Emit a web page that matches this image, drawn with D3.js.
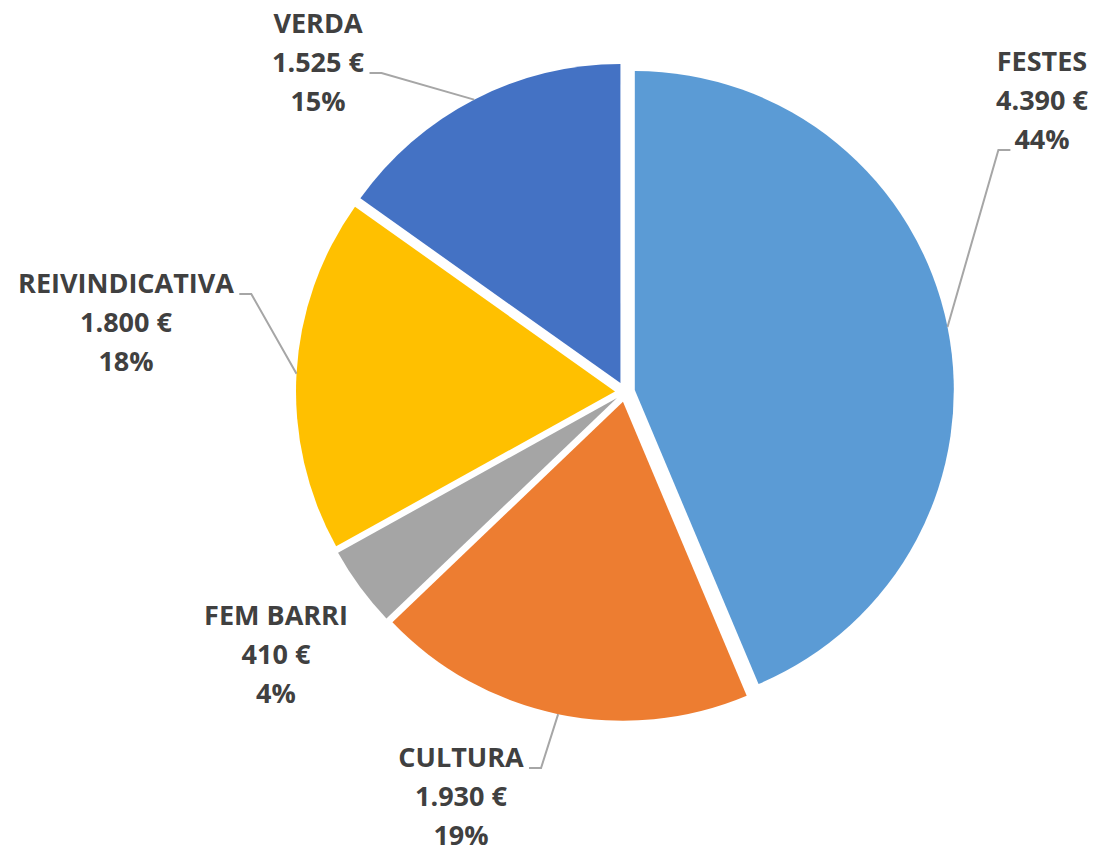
<!DOCTYPE html>
<html>
<head>
<meta charset="utf-8">
<script src="https://cdn.jsdelivr.net/npm/d3@7"></script>
<style>
  html, body { margin: 0; padding: 0; background: #fff; }
  svg { display: block; }
</style>
</head>
<body>
<div id="chart"></div>
<script>
// Chart data
const categories = ["FESTES", "CULTURA", "FEM BARRI", "REIVINDICATIVA", "VERDA"];
const amounts = [4390, 1930, 410, 1800, 1525];
const colors = ["#5B9BD5", "#ED7D31", "#A5A5A5", "#FFC000", "#4472C4"];

// Label placement (center x, first baseline y) and where the leader line attaches
const labelPos = {
    "FESTES":         { x: 1042, y: 71,  leader: { line: 2, side: "left" } },
    "CULTURA":        { x: 461,  y: 767, leader: { line: 0, side: "right" } },
    "FEM BARRI":      { x: 276,  y: 625, leader: null },
    "REIVINDICATIVA": { x: 126,  y: 293, leader: { line: 0, side: "right" } },
    "VERDA":          { x: 318,  y: 33,  leader: { line: 1, side: "right" } }
};

const width = 1097;
const height = 850;
const cx = 625, cy = 392;
const radius = 319;
const explode = 10;
const lineHeight = 39;

const locale = d3.formatLocale({ decimal: ",", thousands: ".", grouping: [3], currency: ["", " €"] });
const fmtEuro = locale.format("$,.0f");

const total = d3.sum(amounts);
const data = categories.map((c, i) => ({ name: c, value: amounts[i], color: colors[i] }));

const svg = d3.select("#chart").append("svg")
    .attr("width", width)
    .attr("height", height);

const pie = d3.pie().sort(null).value(d => d.value);
const arc = d3.arc().innerRadius(0).outerRadius(radius);
const arcs = pie(data);

// offset of each slice along its bisector
const shift = a => {
    const mid = (a.startAngle + a.endAngle) / 2;
    return [Math.sin(mid) * explode, -Math.cos(mid) * explode];
};

const g = svg.append("g").attr("transform", `translate(${cx},${cy})`);

g.selectAll("path.slice")
    .data(arcs)
    .enter()
    .append("path")
    .attr("class", "slice")
    .attr("transform", d => `translate(${shift(d)})`)
    .attr("d", arc)
    .attr("fill", d => d.data.color);

// Labels
const labels = svg.append("g")
    .attr("font-family", "'Open Sans', 'DejaVu Sans', sans-serif")
    .attr("font-weight", "bold")
    .attr("font-size", "27px")
    .attr("fill", "#404040")
    .attr("text-anchor", "middle");

arcs.forEach(a => {
    const d = a.data;
    const pos = labelPos[d.name];
    const lines = [d.name, fmtEuro(d.value), Math.round(d.value / total * 100) + "%"];
    const texts = lines.map((t, i) =>
        labels.append("text")
            .attr("x", pos.x)
            .attr("y", pos.y + i * lineHeight)
            .text(t)
    );

    if (!pos.leader) return;

    // start of leader: middle of the slice's outer edge
    const mid = (a.startAngle + a.endAngle) / 2;
    const [sx, sy] = shift(a);
    const start = [cx + sx + Math.sin(mid) * radius, cy + sy - Math.cos(mid) * radius];

    const box = texts[pos.leader.line].node().getBBox();
    const ly = pos.y + pos.leader.line * lineHeight + 1;
    const end = pos.leader.side === "left" ? [box.x - 4, ly] : [box.x + box.width + 5, ly];
    const elbow = pos.leader.side === "left" ? [end[0] - 12, ly] : [end[0] + 12, ly];

    svg.append("path")
        .attr("d", d3.line()([start, elbow, end]))
        .attr("fill", "none")
        .attr("stroke", "#A6A6A6")
        .attr("stroke-width", 2);
});
</script>
</body>
</html>
